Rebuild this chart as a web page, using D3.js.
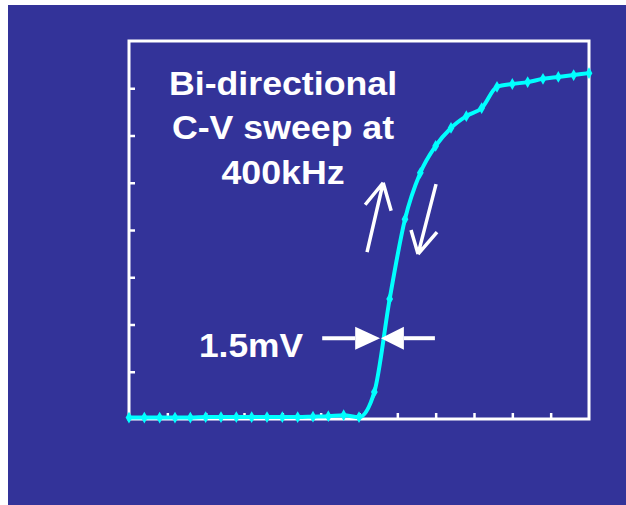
<!DOCTYPE html>
<html>
<head>
<meta charset="utf-8">
<script src="https://cdn.jsdelivr.net/npm/d3@7"></script>
<style>
  html, body { margin: 0; padding: 0; background: #ffffff; }
  svg { display: block; }
  .label { font-family: "Liberation Sans", Arial, sans-serif; font-weight: bold; fill: #ffffff; }
</style>
</head>
<body>
<div id="chart"></div>
<script>
// C-V sweep data (x in tick units, y in tick units)
var sweepX = d3.range(31).map(function(i) { return i * 0.4; });
var sweepY = [0.03, 0.03, 0.03, 0.03, 0.03, 0.04, 0.04, 0.04, 0.04, 0.04,
              0.04, 0.04, 0.05, 0.06, 0.08, 0.04, 0.57, 2.54, 4.23, 5.21,
              5.78, 6.16, 6.41, 6.58, 7.03, 7.09, 7.13, 7.20, 7.24, 7.28, 7.32];
var xTicks = [1, 2, 3, 4, 5, 6, 7, 8, 9, 10, 11];
var yTicks = [1, 2, 3, 4, 5, 6, 7];
var titleLines = ['Bi-directional', 'C-V sweep at', '400kHz'];
var widthLabel = '1.5mV';

var svgWidth = 626, svgHeight = 505;
var margin = {top: 41, right: 37, bottom: 86, left: 129};

var svg = d3.select('#chart').append('svg')
    .attr('width', svgWidth).attr('height', svgHeight);

// slide background
svg.append('rect')
    .attr('x', 8).attr('y', 5)
    .attr('width', svgWidth - 8).attr('height', svgHeight - 5)
    .attr('fill', '#333399');

var x = d3.scaleLinear().domain([0, 12]).range([margin.left, svgWidth - margin.right]);
var y = d3.scaleLinear().domain([0, 8]).range([svgHeight - margin.bottom, margin.top]);

// frame
svg.append('rect')
    .attr('x', x(0)).attr('y', y(8))
    .attr('width', x(12) - x(0)).attr('height', y(0) - y(8))
    .attr('fill', 'none').attr('stroke', '#ffffff').attr('stroke-width', 3);

// inward ticks, no labels
var xAxis = svg.append('g')
    .attr('transform', 'translate(0,' + y(0) + ')')
    .call(d3.axisBottom(x).tickValues(xTicks).tickSize(-6).tickFormat(''));
var yAxis = svg.append('g')
    .attr('transform', 'translate(' + x(0) + ',0)')
    .call(d3.axisLeft(y).tickValues(yTicks).tickSize(-6).tickFormat(''));
[xAxis, yAxis].forEach(function(a) {
    a.select('.domain').remove();
    a.selectAll('.tick line').attr('stroke', '#ffffff').attr('stroke-width', 2.5);
});

// curve
var points = sweepX.map(function(d, i) { return [d, sweepY[i]]; });
var line = d3.line()
    .x(function(d) { return x(d[0]); })
    .y(function(d) { return y(d[1]); })
    .curve(d3.curveMonotoneX);

svg.append('path')
    .datum(points)
    .attr('d', line)
    .attr('fill', 'none')
    .attr('stroke', '#00ffff')
    .attr('stroke-width', 4)
    .attr('stroke-linejoin', 'round');

svg.selectAll('.marker')
    .data(points)
    .enter().append('path')
    .attr('class', 'marker')
    .attr('d', d3.symbol().type(d3.symbolDiamond).size(40))
    .attr('transform', function(d) { return 'translate(' + x(d[0]) + ',' + y(d[1]) + ')'; })
    .attr('fill', '#00ffff');

// title text
var titleG = svg.append('g')
    .attr('transform', 'translate(283,0) scale(1.05,1)');
titleG.selectAll('text')
    .data(titleLines)
    .enter().append('text')
    .attr('class', 'label')
    .attr('x', 0)
    .attr('y', function(d, i) { return 95 + i * 44.5; })
    .attr('text-anchor', 'middle')
    .attr('font-size', 34)
    .text(function(d) { return d; });

svg.append('g')
    .attr('transform', 'translate(251,357) scale(1.04,1)')
    .append('text')
    .attr('class', 'label')
    .attr('text-anchor', 'middle')
    .attr('font-size', 34)
    .text(widthLabel);

// 1.5mV arrows (data units)
var arrowY = 1.71;
var leftArrow = {from: 5.04, tip: 6.55, base: 5.9};
var rightArrow = {from: 7.98, tip: 6.57, base: 7.17};
[leftArrow, rightArrow].forEach(function(a) {
    svg.append('line')
        .attr('x1', x(a.from)).attr('y1', y(arrowY))
        .attr('x2', x(a.base)).attr('y2', y(arrowY))
        .attr('stroke', '#ffffff').attr('stroke-width', 4);
    svg.append('path')
        .attr('d', 'M' + x(a.tip) + ',' + y(arrowY) +
                   'L' + x(a.base) + ',' + (y(arrowY) - 11.5) +
                   'L' + x(a.base) + ',' + (y(arrowY) + 11.5) + 'Z')
        .attr('fill', '#ffffff');
});

// sweep direction arrows
var upArrow = {x0: 6.21, y0: 3.53, x1: 6.63, y1: 5.0, arms: [[-18, 22], [8, 28]]};
var downArrow = {x0: 8.01, y0: 4.97, x1: 7.54, y1: 3.49, arms: [[-7, -24], [19, -22]]};
[upArrow, downArrow].forEach(function(a) {
    var tx = x(a.x1), ty = y(a.y1);
    var d = 'M' + x(a.x0) + ',' + y(a.y0) + 'L' + tx + ',' + ty;
    a.arms.forEach(function(m) {
        d += 'M' + (tx + m[0]) + ',' + (ty + m[1]) + 'L' + tx + ',' + ty;
    });
    svg.append('path')
        .attr('d', d)
        .attr('fill', 'none')
        .attr('stroke', '#ffffff')
        .attr('stroke-width', 3.5)
        .attr('stroke-linecap', 'butt')
        .attr('stroke-linejoin', 'miter');
});
</script>
</body>
</html>
